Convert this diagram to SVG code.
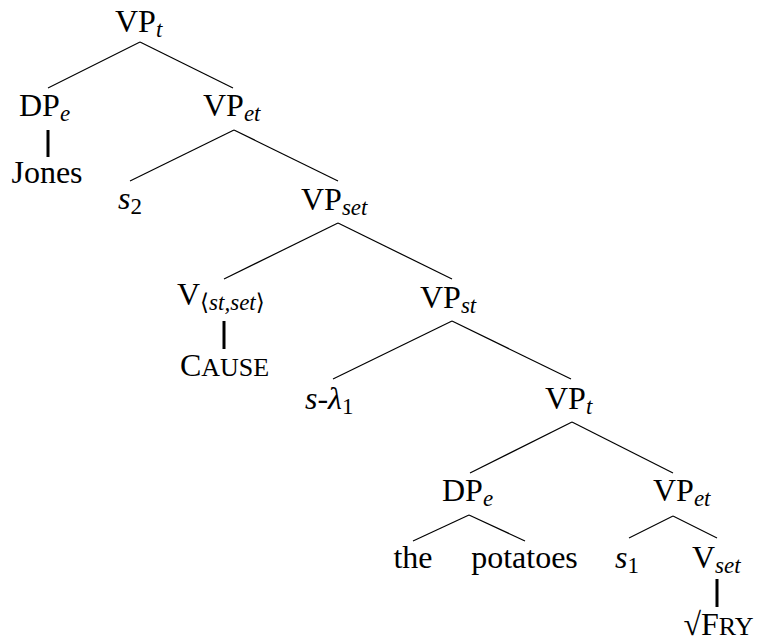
<svg xmlns="http://www.w3.org/2000/svg" width="763" height="644" viewBox="0 0 763 644">
<style>
text{font-family:"Liberation Serif","DejaVu Serif",serif;font-size:32px;fill:#000}
.m{text-anchor:middle}
.i{font-style:italic}
.sub{font-size:23px;font-style:italic}
.subr{font-size:23px;font-style:normal}
.sc{font-size:26px}
.e line{stroke:#000;stroke-width:1.2}
.e line.t{stroke-width:3}
</style>
<rect width="763" height="644" fill="#fff"/>
<g id="connectors" class="e">
<line x1="140" y1="42" x2="48" y2="88"/>
<line x1="140" y1="42" x2="233" y2="88"/>
<line class="t" x1="48" y1="130" x2="48" y2="157"/>
<line x1="234" y1="130" x2="130" y2="181"/>
<line x1="234" y1="130" x2="338" y2="181"/>
<line x1="338" y1="223" x2="224" y2="279"/>
<line x1="338" y1="223" x2="452" y2="279"/>
<line class="t" x1="224" y1="321" x2="224" y2="349"/>
<line x1="452" y1="321" x2="333" y2="379"/>
<line x1="452" y1="321" x2="571" y2="379"/>
<line x1="572" y1="422" x2="470" y2="473"/>
<line x1="572" y1="422" x2="673" y2="473"/>
<line x1="469" y1="515" x2="413" y2="541"/>
<line x1="469" y1="515" x2="525" y2="541"/>
<line x1="673" y1="516" x2="629" y2="538"/>
<line x1="673" y1="516" x2="717" y2="538"/>
<line class="t" x1="717" y1="579" x2="717" y2="607"/>
</g>
<g id="n_vp_t_top"><text x="115" y="32">VP<tspan class="sub" dy="5">t</tspan></text></g>
<g id="n_dp_e_top"><text x="19" y="116">DP<tspan class="sub" dy="5">e</tspan></text></g>
<g id="n_jones"><text class="m" x="47" y="183">Jones</text></g>
<g id="n_vp_et_top"><text x="203" y="116">VP<tspan class="sub" dy="5">et</tspan></text></g>
<g id="n_s2"><text x="118" y="209" class="i">s<tspan class="subr" dy="5">2</tspan></text></g>
<g id="n_vp_set"><text x="301" y="210">VP<tspan class="sub" dy="5">set</tspan></text></g>
<g id="n_v_cause"><text x="177" y="305">V<tspan class="subr" dy="5">⟨</tspan><tspan class="sub">st,set</tspan><tspan class="subr">⟩</tspan></text></g>
<g id="n_cause"><text class="m" x="224.5" y="376">C<tspan class="sc">AUSE</tspan></text></g>
<g id="n_vp_st"><text x="420" y="308">VP<tspan class="sub" dy="5">st</tspan></text></g>
<g id="n_s_lambda"><text x="305" y="409"><tspan class="i">s</tspan>-<tspan class="i">λ</tspan><tspan class="subr" dy="5">1</tspan></text></g>
<g id="n_vp_t_low"><text x="545" y="409">VP<tspan class="sub" dy="5">t</tspan></text></g>
<g id="n_dp_e_low"><text x="442" y="501">DP<tspan class="sub" dy="5">e</tspan></text></g>
<g id="n_vp_et_low"><text x="653" y="501">VP<tspan class="sub" dy="5">et</tspan></text></g>
<g id="n_the"><text class="m" x="413" y="568">the</text></g>
<g id="n_potatoes"><text class="m" x="524.5" y="568">potatoes</text></g>
<g id="n_s1"><text x="615" y="568" class="i">s<tspan class="subr" dy="5">1</tspan></text></g>
<g id="n_v_set"><text x="692" y="568">V<tspan class="sub" dy="5">set</tspan></text></g>
<g id="n_fry"><text class="m" x="718.5" y="635">√F<tspan class="sc">RY</tspan></text></g>
</svg>
